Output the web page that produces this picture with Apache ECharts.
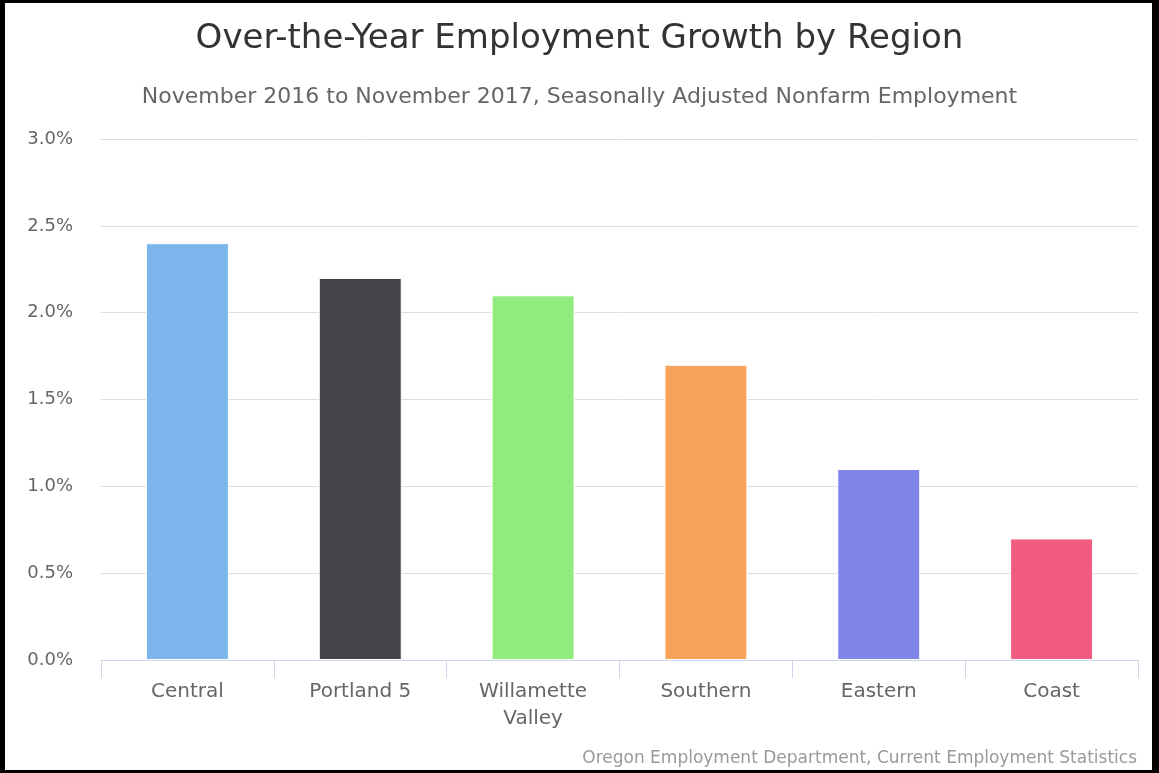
<!DOCTYPE html>
<html>
<head>
<meta charset="utf-8">
<script src="https://cdn.jsdelivr.net/npm/echarts@6/dist/echarts.min.js"></script>
<style>
  html, body { margin: 0; padding: 0; background: #fff; }
  #wrap { position: relative; width: 1159px; height: 773px; }
  #chart { position: absolute; left: 0; top: 0; width: 1159px; height: 773px; }
  #frame {
    position: absolute; left: 0; top: 0; width: 1159px; height: 773px;
    box-sizing: border-box; pointer-events: none;
    border-style: solid; border-color: #000;
    border-width: 3px 7px 3px 5px;
  }
</style>
</head>
<body>
<div id="wrap">
  <div id="chart"></div>
  <div id="frame"></div>
</div>
<script>
// Regions and their over-the-year nonfarm employment growth (%)
const regions = ['Central', 'Portland 5', 'Willamette\nValley', 'Southern', 'Eastern', 'Coast'];
const growth = [2.4, 2.2, 2.1, 1.7, 1.1, 0.7];
const barColors = ['#7cb5ec', '#434348', '#90ed7d', '#f7a35c', '#8085e9', '#f15c80'];

const titleText = 'Over-the-Year Employment Growth by Region';
const subtitleText = 'November 2016 to November 2017, Seasonally Adjusted Nonfarm Employment';
const creditText = 'Oregon Employment Department, Current Employment Statistics';

const FONT = 'DejaVu Sans';
const chart = echarts.init(document.getElementById('chart'), null, { renderer: 'canvas' });

chart.setOption({
  backgroundColor: '#ffffff',
  animation: false,
  title: [
    {
      text: titleText, left: 'center', top: 20, padding: 0,
      textStyle: { fontFamily: FONT, fontSize: 34, fontWeight: 'normal', color: '#333333', lineHeight: 38 }
    },
    {
      text: subtitleText, left: 'center', top: 85, padding: 0,
      textStyle: { fontFamily: FONT, fontSize: 22, fontWeight: 'normal', color: '#666666', lineHeight: 24 }
    },
    {
      text: creditText, right: 22, top: 749, padding: 0,
      textStyle: { fontFamily: FONT, fontSize: 17, fontWeight: 'normal', color: '#999999', lineHeight: 20 }
    }
  ],
  grid: { left: 101, right: 21, top: 139, bottom: 113, containLabel: false },
  xAxis: {
    type: 'category',
    data: regions,
    axisLine: { show: true, lineStyle: { color: '#ccd6eb', width: 1 } },
    axisTick: { show: true, length: 18, lineStyle: { color: '#ccd6eb', width: 1 } },
    axisLabel: {
      fontFamily: FONT, fontSize: 20, color: '#666666', margin: 18, lineHeight: 27, interval: 0
    },
    splitLine: { show: false }
  },
  yAxis: {
    type: 'value',
    min: 0, max: 3, interval: 0.5,
    axisLine: { show: false },
    axisTick: { show: false },
    axisLabel: {
      fontFamily: FONT, fontSize: 18, color: '#666666', margin: 28,
      formatter: v => v.toFixed(1) + '%'
    },
    splitLine: { show: true, lineStyle: { color: '#dedede', width: 1 } }
  },
  series: [{
    type: 'bar',
    barWidth: '48%',
    data: growth.map((v, i) => ({ value: v, itemStyle: { color: barColors[i] } })),
    itemStyle: { borderColor: '#ffffff', borderWidth: 1 }
  }]
});
</script>
</body>
</html>
